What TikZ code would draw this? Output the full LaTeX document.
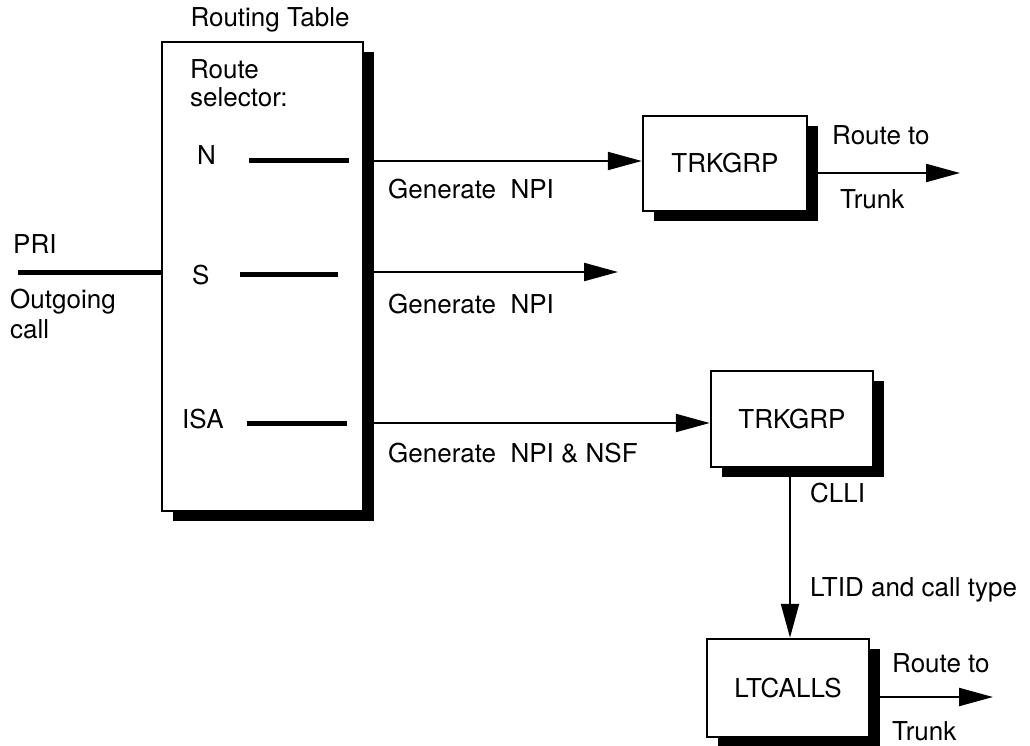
\documentclass[tikz,border=0pt]{standalone}
\usepackage{fontspec}
\setmainfont{TeX Gyre Heros}
\usetikzlibrary{arrows.meta,shadows}
\begin{document}
\begin{tikzpicture}[x=1pt,y=-1pt,
  lbl/.style={inner sep=0pt,anchor=base west,font=\fontsize{26}{30}\selectfont},
  sbox/.style={draw=black,fill=white,line width=2.5pt,inner sep=0pt,
    general shadow={fill=black,shadow xshift=11pt,shadow yshift=-10pt},
    font=\fontsize{26}{30}\selectfont},
  sel/.style={line width=5pt},
  conn/.style={line width=2.2pt,-{Triangle[length=34pt,width=18pt]}},
  plain/.style={line width=2.2pt}]
\useasboundingbox (0,0) rectangle (1030,746);

% routing table
\node[sbox,minimum width=201pt,minimum height=469pt] (rt) at (262.5,276.5) {};
\node[lbl,anchor=base] (rttitle) at (270,27) {Routing Table};
\node[lbl] (rs1) at (190,79) {Route};
\node[lbl] (rs2) at (190,107) {selector:};
\node[lbl] (nN) at (197,165) {N};
\node[lbl] (nS) at (192,284) {S};
\node[lbl] (nISA) at (182,428) {ISA};
\coordinate (n1) at (249,161);
\coordinate (n2) at (349,161);
\coordinate (s1) at (240,274);
\coordinate (s2) at (338,274);
\coordinate (i1) at (247,423);
\coordinate (i2) at (347,423);
\draw[sel] (n1) -- (n2);
\draw[sel] (s1) -- (s2);
\draw[sel] (i1) -- (i2);

% PRI
\coordinate (pri) at (18,272);
\draw[line width=5pt] (pri) -- (rt.west |- pri);
\node[lbl] (prit) at (13,253) {PRI};
\node[lbl] (og1) at (10,308) {Outgoing};
\node[lbl] (og2) at (10,338) {call};

% boxes
\node[sbox,minimum width=164pt,minimum height=95pt] (t1) at (725,163.5) {TRKGRP};
\node[sbox,minimum width=162pt,minimum height=96pt] (t2) at (792,419) {TRKGRP};
\node[sbox,minimum width=162pt,minimum height=98pt] (lt) at (788,688) {LTCALLS};

% N route
\draw[conn] (rt.east |- n1) -- (t1.west |- n1);
\node[lbl] (g1) at (388,199) {Generate\ \ NPI};
% S route
\coordinate (send) at (618,272);
\draw[conn] (rt.east |- send) -- (send);
\node[lbl] (g2) at (388,313) {Generate\ \ NPI};
% ISA route
\draw[conn] (rt.east |- i1) -- (t2.west |- i1);
\node[lbl] (g3) at (388,462) {Generate\ \ NPI \& NSF};

% TRKGRP1 out
\coordinate (o1) at (960,173);
\draw[conn] (t1.east |- o1) -- (o1);
\node[lbl] (r1) at (832,145) {Route to};
\node[lbl] (k1) at (840,208) {Trunk};

% TRKGRP2 -> LTCALLS
\coordinate (vx) at (790,0);
\draw[conn] (vx |- t2.south) -- (vx |- lt.north);
\node[lbl] (clli) at (810,502) {CLLI};
\node[lbl] (ltid) at (810,596) {LTID and call type};

% LTCALLS out
\coordinate (o2) at (993,697);
\draw[conn] (lt.east |- o2) -- (o2);
\node[lbl] (r2) at (892,672) {Route to};
\node[lbl] (k2) at (892,740) {Trunk};
\end{tikzpicture}
\end{document}
